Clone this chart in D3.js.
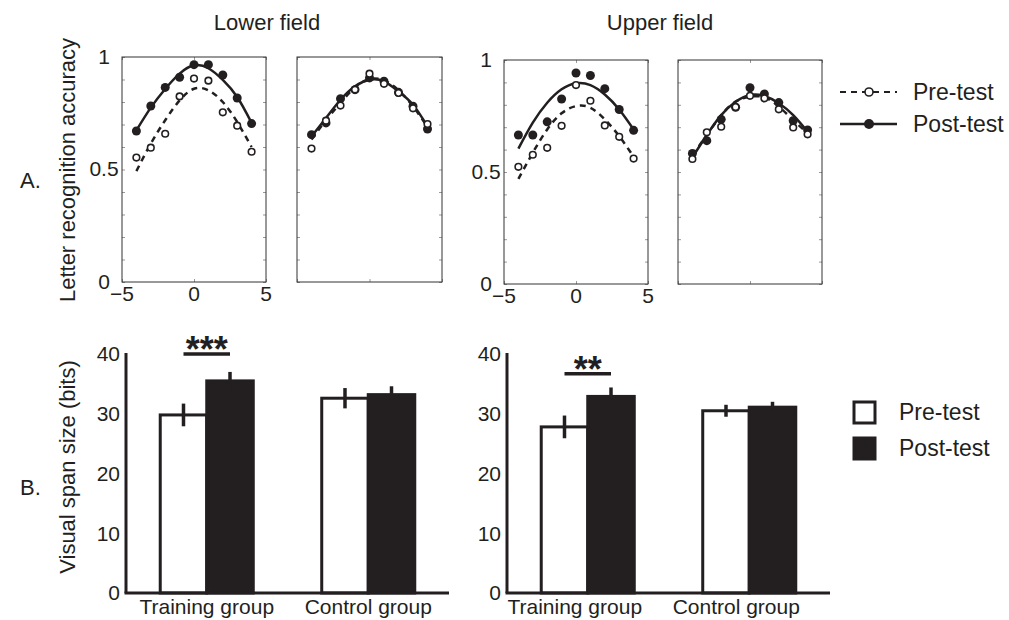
<!DOCTYPE html>
<html>
<head>
<meta charset="utf-8">
<script src="https://cdn.jsdelivr.net/npm/d3@7"></script>
<style>
body { margin: 0; background: #fff; }
text { font-family: "Liberation Sans", Arial, Helvetica, sans-serif; fill: #231f20; }
</style>
</head>
<body>
<div id="chart"></div>
<script>
// letter positions (slots from fixation)
var positions = [-4, -3, -2, -1, 0, 1, 2, 3, 4];

// A. lower field, training group
var lowTrainPre     = [0.553, 0.597, 0.659, 0.825, 0.904, 0.895, 0.754, 0.695, 0.579];
var lowTrainPost    = [0.671, 0.782, 0.865, 0.910, 0.966, 0.966, 0.920, 0.818, 0.704];
var lowTrainPreFit  = [0.493, 0.615, 0.719, 0.807, 0.859, 0.852, 0.800, 0.711, 0.600];
var lowTrainPostFit = [0.674, 0.775, 0.858, 0.926, 0.963, 0.950, 0.898, 0.822, 0.707];
// A. lower field, control group
var lowCtrlPre      = [0.593, 0.717, 0.784, 0.855, 0.926, 0.881, 0.840, 0.772, 0.702];
var lowCtrlPost     = [0.655, 0.707, 0.815, 0.855, 0.907, 0.892, 0.843, 0.781, 0.680];
var lowCtrlPreFit   = [0.633, 0.719, 0.796, 0.865, 0.902, 0.896, 0.852, 0.781, 0.689];
var lowCtrlPostFit  = [0.647, 0.729, 0.810, 0.870, 0.899, 0.892, 0.847, 0.788, 0.692];
// A. upper field, training group
var upTrainPre      = [0.523, 0.577, 0.608, 0.706, 0.888, 0.818, 0.708, 0.657, 0.560];
var upTrainPost     = [0.665, 0.665, 0.724, 0.826, 0.942, 0.931, 0.872, 0.779, 0.686];
var upTrainPreFit   = [0.469, 0.586, 0.690, 0.762, 0.794, 0.787, 0.735, 0.660, 0.568];
var upTrainPostFit  = [0.604, 0.720, 0.809, 0.869, 0.896, 0.888, 0.846, 0.779, 0.690];
// A. upper field, control group
var upCtrlPre       = [0.558, 0.677, 0.702, 0.790, 0.840, 0.829, 0.780, 0.699, 0.668];
var upCtrlPost      = [0.583, 0.640, 0.735, 0.789, 0.876, 0.848, 0.810, 0.729, 0.688];
var upCtrlPreFit    = [0.576, 0.665, 0.754, 0.814, 0.836, 0.833, 0.792, 0.732, 0.673];
var upCtrlPostFit   = [0.565, 0.665, 0.754, 0.814, 0.844, 0.839, 0.807, 0.754, 0.680];

var accTicks = [0, 0.5, 1];
var posTicks = [-5, 0, 5];

// B. visual span size (bits)
var groups = ["Training group", "Control group"];
var phases = ["Pre-test", "Post-test"];
var lowSpanPre     = [29.8, 32.6];
var lowSpanPost    = [35.5, 33.2];
var lowSpanPreErr  = [1.9, 1.7];
var lowSpanPostErr = [1.5, 1.4];
var upSpanPre      = [27.8, 30.5];
var upSpanPost     = [32.9, 31.1];
var upSpanPreErr   = [1.9, 1.0];
var upSpanPostErr  = [1.5, 0.9];
var spanTicks = [0, 10, 20, 30, 40];
var sigLevel = [40, 36.7];
var sigLabel = ["***", "**"];

var ink = "#231f20";
var W = 1009, H = 620;

var svg = d3.select("#chart").append("svg")
  .attr("width", W)
  .attr("height", H);

// ---------- A panels ----------
var panels = [
  { x0: 122, x1: 266, y0: 57, y1: 282, labels: true,  pre: lowTrainPre, post: lowTrainPost, preFit: lowTrainPreFit, postFit: lowTrainPostFit },
  { x0: 297, x1: 442, y0: 57, y1: 282, labels: false, pre: lowCtrlPre,  post: lowCtrlPost,  preFit: lowCtrlPreFit,  postFit: lowCtrlPostFit },
  { x0: 504, x1: 648, y0: 60, y1: 284, labels: true,  pre: upTrainPre,  post: upTrainPost,  preFit: upTrainPreFit,  postFit: upTrainPostFit },
  { x0: 678, x1: 822, y0: 60, y1: 284, labels: false, pre: upCtrlPre,   post: upCtrlPost,   preFit: upCtrlPreFit,   postFit: upCtrlPostFit }
];

panels.forEach(function(p) {
  var x = d3.scaleLinear().domain([-5, 5]).range([p.x0, p.x1]);
  var y = d3.scaleLinear().domain([0, 1]).range([p.y1, p.y0]);
  var g = svg.append("g");

  // minor inner ticks on all four sides
  var sides = [
    { a: d3.axisLeft(y).ticks(10).tickSize(-3), t: "translate(" + p.x0 + ",0)" },
    { a: d3.axisRight(y).ticks(10).tickSize(-3), t: "translate(" + p.x1 + ",0)" },
    { a: d3.axisBottom(x).tickValues(posTicks).tickSize(-3), t: "translate(0," + p.y1 + ")" },
    { a: d3.axisTop(x).tickValues(posTicks).tickSize(-3), t: "translate(0," + p.y0 + ")" }
  ];
  sides.forEach(function(s) {
    var ax = g.append("g").attr("transform", s.t).call(s.a.tickFormat(""));
    ax.select(".domain").remove();
    ax.selectAll("line").attr("stroke", "#999").attr("stroke-width", 1);
  });

  g.append("rect")
    .attr("x", p.x0).attr("y", p.y0)
    .attr("width", p.x1 - p.x0).attr("height", p.y1 - p.y0)
    .attr("fill", "none").attr("stroke", "#333").attr("stroke-width", 1);

  if (p.labels) {
    g.selectAll("text.yl").data(accTicks).enter().append("text")
      .attr("class", "yl")
      .attr("x", p.x0 - 18)
      .attr("y", function(d) { return y(d); })
      .attr("dy", "0.33em")
      .attr("text-anchor", "middle")
      .attr("font-size", 21)
      .text(function(d) { return d; });
    g.selectAll("text.xl").data(posTicks).enter().append("text")
      .attr("class", "xl")
      .attr("x", function(d) { return x(d); })
      .attr("y", p.y1 + 19)
      .attr("text-anchor", "middle")
      .attr("font-size", 21)
      .text(function(d) { return d < 0 ? "\u2212" + (-d) : d; });
  }

  var line = d3.line()
    .x(function(d, i) { return x(positions[i]); })
    .y(function(d) { return y(d); })
    .curve(d3.curveNatural);

  g.append("path").datum(p.preFit)
    .attr("d", line)
    .attr("fill", "none").attr("stroke", ink)
    .attr("stroke-width", 2.5).attr("stroke-dasharray", "6,5");
  g.append("path").datum(p.postFit)
    .attr("d", line)
    .attr("fill", "none").attr("stroke", ink)
    .attr("stroke-width", 2.5);

  g.selectAll("circle.post").data(p.post).enter().append("circle")
    .attr("class", "post")
    .attr("cx", function(d, i) { return x(positions[i]); })
    .attr("cy", function(d) { return y(d); })
    .attr("r", 4.5)
    .attr("fill", ink);
  g.selectAll("circle.pre").data(p.pre).enter().append("circle")
    .attr("class", "pre")
    .attr("cx", function(d, i) { return x(positions[i]); })
    .attr("cy", function(d) { return y(d); })
    .attr("r", 3.3)
    .attr("fill", "#fff").attr("stroke", ink).attr("stroke-width", 1.6);
});

// titles
svg.append("text").attr("x", 267).attr("y", 30).attr("text-anchor", "middle")
  .attr("font-size", 22).text("Lower field");
svg.append("text").attr("x", 660).attr("y", 30).attr("text-anchor", "middle")
  .attr("font-size", 22).text("Upper field");

// A legend
var legA = svg.append("g").attr("transform", "translate(840,0)");
legA.append("line").attr("x1", 0).attr("x2", 57).attr("y1", 92).attr("y2", 92)
  .attr("stroke", ink).attr("stroke-width", 2).attr("stroke-dasharray", "6,5");
legA.append("circle").attr("cx", 29).attr("cy", 92).attr("r", 4)
  .attr("fill", "#fff").attr("stroke", ink).attr("stroke-width", 1.6);
legA.append("line").attr("x1", 0).attr("x2", 57).attr("y1", 124).attr("y2", 124)
  .attr("stroke", ink).attr("stroke-width", 2.5);
legA.append("circle").attr("cx", 29).attr("cy", 124).attr("r", 5).attr("fill", ink);
legA.selectAll("text").data(phases).enter().append("text")
  .attr("x", 73)
  .attr("y", function(d, i) { return 92 + i * 32; })
  .attr("dy", "0.36em")
  .attr("font-size", 23)
  .text(function(d) { return d; });

// ---------- B bar charts ----------
var bars = [
  { x0: 126, x1: 449, pre: lowSpanPre, post: lowSpanPost, preErr: lowSpanPreErr, postErr: lowSpanPostErr, sig: 0, shift: 0 },
  { x0: 507, x1: 830, pre: upSpanPre,  post: upSpanPost,  preErr: upSpanPreErr,  postErr: upSpanPostErr,  sig: 1, shift: -13 }
];

bars.forEach(function(b) {
  var x = d3.scaleBand().domain(groups).range([b.x0, b.x1]).paddingInner(0.424).paddingOuter(0.212);
  var xs = d3.scaleBand().domain(phases).range([0, x.bandwidth()]);
  var y = d3.scaleLinear().domain([0, 40]).range([593, 354]);
  var g = svg.append("g");

  var rows = groups.map(function(gr, i) {
    return [
      { g: gr, phase: phases[0], v: b.pre[i], e: b.preErr[i] },
      { g: gr, phase: phases[1], v: b.post[i], e: b.postErr[i] }
    ];
  });
  var flat = d3.merge(rows);

  g.selectAll("rect.bar").data(flat).enter().append("rect")
    .attr("class", "bar")
    .attr("x", function(d) { return x(d.g) + xs(d.phase); })
    .attr("y", function(d) { return y(d.v); })
    .attr("width", xs.bandwidth())
    .attr("height", function(d) { return y(0) - y(d.v); })
    .attr("fill", function(d) { return d.phase === phases[0] ? "#fff" : ink; })
    .attr("stroke", ink)
    .attr("stroke-width", 3);

  g.selectAll("line.err").data(flat).enter().append("line")
    .attr("class", "err")
    .attr("x1", function(d) { return x(d.g) + xs(d.phase) + xs.bandwidth() / 2; })
    .attr("x2", function(d) { return x(d.g) + xs(d.phase) + xs.bandwidth() / 2; })
    .attr("y1", function(d) { return y(d.v - d.e); })
    .attr("y2", function(d) { return y(d.v + d.e); })
    .attr("stroke", ink)
    .attr("stroke-width", 3.5);

  // axes
  g.append("line").attr("x1", b.x0).attr("x2", b.x0).attr("y1", y(40) - 1).attr("y2", y(0))
    .attr("stroke", ink).attr("stroke-width", 3);
  g.append("line").attr("x1", b.x0 - 1.5).attr("x2", b.x1).attr("y1", y(0)).attr("y2", y(0))
    .attr("stroke", ink).attr("stroke-width", 3);

  g.selectAll("text.yt").data(spanTicks).enter().append("text")
    .attr("class", "yt")
    .attr("x", b.x0 - 6)
    .attr("y", function(d) { return y(d); })
    .attr("dy", "0.35em")
    .attr("text-anchor", "end")
    .attr("font-size", 21)
    .text(function(d) { return d; });

  g.selectAll("text.xt").data(groups).enter().append("text")
    .attr("class", "xt")
    .attr("x", function(d) { return x(d) + x.bandwidth() / 2 + b.shift; })
    .attr("y", 614)
    .attr("text-anchor", "middle")
    .attr("font-size", 21)
    .text(function(d) { return d; });

  // significance bracket
  var g0 = groups[0];
  var sx1 = x(g0) + xs(phases[0]) + xs.bandwidth() / 2;
  var sx2 = x(g0) + xs(phases[1]) + xs.bandwidth() / 2;
  g.append("line").attr("x1", sx1).attr("x2", sx2)
    .attr("y1", y(sigLevel[b.sig])).attr("y2", y(sigLevel[b.sig]))
    .attr("stroke", ink).attr("stroke-width", 3.5);
  g.append("text")
    .attr("x", (sx1 + sx2) / 2)
    .attr("y", y(sigLevel[b.sig]) + 8)
    .attr("text-anchor", "middle")
    .attr("font-size", 36)
    .attr("font-weight", "bold")
    .text(sigLabel[b.sig]);
});

// B legend
var legB = svg.append("g").attr("transform", "translate(854,0)");
legB.selectAll("rect").data(phases).enter().append("rect")
  .attr("x", 0)
  .attr("y", function(d, i) { return 402 + i * 36; })
  .attr("width", 21).attr("height", 21)
  .attr("fill", function(d, i) { return i === 0 ? "#fff" : ink; })
  .attr("stroke", ink).attr("stroke-width", 3);
legB.selectAll("text").data(phases).enter().append("text")
  .attr("x", 45)
  .attr("y", function(d, i) { return 412 + i * 36; })
  .attr("dy", "0.36em")
  .attr("font-size", 23)
  .text(function(d) { return d; });

// axis titles and panel letters
svg.append("text").attr("transform", "translate(75,170) rotate(-90)")
  .attr("text-anchor", "middle").attr("font-size", 22).text("Letter recognition accuracy");
svg.append("text").attr("transform", "translate(75,467) rotate(-90)")
  .attr("text-anchor", "middle").attr("font-size", 22).text("Visual span size (bits)");
svg.append("text").attr("x", 20).attr("y", 188).attr("font-size", 22).text("A.");
svg.append("text").attr("x", 20).attr("y", 495).attr("font-size", 22).text("B.");
</script>
</body>
</html>
